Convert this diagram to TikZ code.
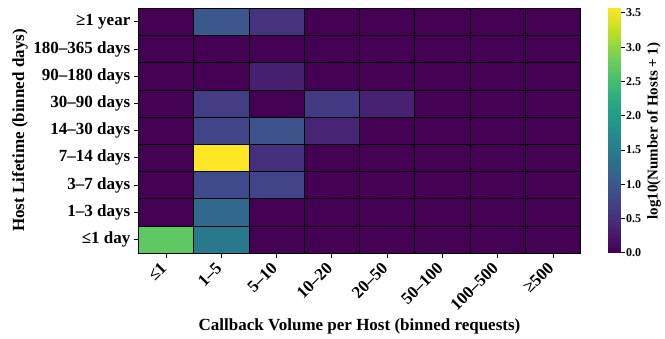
\documentclass[tikz,border=0pt]{standalone}
\usepackage{fontspec}
\setmainfont{Liberation Serif}

\definecolor{v0}{HTML}{440154}
\definecolor{v1}{HTML}{482475}
\definecolor{v2}{HTML}{414487}
\definecolor{v3}{HTML}{355F8D}
\definecolor{v4}{HTML}{2A788E}
\definecolor{v5}{HTML}{21918C}
\definecolor{v6}{HTML}{22A884}
\definecolor{v7}{HTML}{44BF70}
\definecolor{v8}{HTML}{7AD151}
\definecolor{v9}{HTML}{BDDF26}
\definecolor{v10}{HTML}{FDE725}

\newcommand{\bigfont}{\bfseries\fontsize{17}{17}\selectfont}
\newcommand{\smallfont}{\bfseries\fontsize{12}{12}\selectfont}

\begin{document}
\begin{tikzpicture}[x=1pt,y=-1pt,
  cell/.style={draw=black,line width=0.7pt},
  tick/.style={line width=0.8pt}]
\useasboundingbox (0,0) rectangle (665,339);
\def\cw{55.3}
\def\ch{27.2}

% heatmap cells, rows top to bottom
\foreach \row [count=\r] in {
  {440154,3B578B,46327E,440154,440154,440154,440154,440154},
  {440154,440154,440154,440154,440154,440154,440154,440154},
  {440154,440154,482071,440154,440154,440154,440154,440154},
  {440154,433D84,440154,443A83,482173,440154,440154,440154},
  {440154,414487,3B528B,482475,440154,440154,440154,440154},
  {440154,FDE725,46307E,440154,440154,440154,440154,440154},
  {440154,3E4A89,414487,440154,440154,440154,440154,440154},
  {440154,31688E,440154,440154,440154,440154,440154,440154},
  {5EC962,2A788E,440154,440154,440154,440154,440154,440154}}{
  \foreach \c [count=\k] in \row {
    \definecolor{cellc}{HTML}{\c}
    \filldraw[cell,fill=cellc] ({138.3+(\k-1)*\cw},{8.3+(\r-1)*\ch}) rectangle +(\cw,\ch);
  }
}

\foreach \lab [count=\r] in {≥1 year,180–365 days,90–180 days,30–90 days,
  14–30 days,7–14 days,3–7 days,1–3 days,≤1 day}{
  \node[anchor=east,font=\bigfont,inner sep=0pt] (ylab\r) at (130.5,{8.3+(\r-0.5)*\ch}) {\lab};
  \draw[tick] (133.5,{8.3+(\r-0.5)*\ch}) -- (138.3,{8.3+(\r-0.5)*\ch});
}

\foreach \lab [count=\k] in {≤1,1–5,5–10,10–20,20–50,50–100,100–500,≥500}{
  \draw[tick] ({138.3+(\k-0.5)*\cw},253.1) -- ({138.3+(\k-0.5)*\cw},257.8);
  \node[anchor=north east,rotate=45,font=\bigfont,inner sep=0pt] (xlab\k)
    at ({138.3+(\k-0.5)*\cw-6.5},261) {\lab};
}

\node[font=\bigfont] (xtitle) at (359.5,326) {Callback Volume per Host (binned requests)};
\node[font=\bigfont,rotate=90] (ytitle) at (20,130.5) {Host Lifetime (binned days)};

% colorbar
\foreach \i [evaluate=\i as \j using int(\i+1)] in {0,...,9}
  \foreach \t in {0,10,...,90}
    \fill[v\j!\t!v\i] (607.7,{252.9-(\i*10+\t/10)*2.446}) rectangle (620.7,{252.9-(\i*10+\t/10+1)*2.446-0.3});
\foreach \v [count=\i] in {0.0,0.5,1.0,1.5,2.0,2.5,3.0,3.5}{
  \draw[tick] (620.7,{252.9-\v*68.6}) -- (624.5,{252.9-\v*68.6});
  \node[anchor=west,font=\smallfont,inner sep=0pt] (cb\i) at (626,{252.9-\v*68.6}) {\v};
}
\node[font=\bfseries\fontsize{15}{15}\selectfont,rotate=90] (cbtitle) at (654,131) {log10(Number of Hosts + 1)};
\end{tikzpicture}
\end{document}
